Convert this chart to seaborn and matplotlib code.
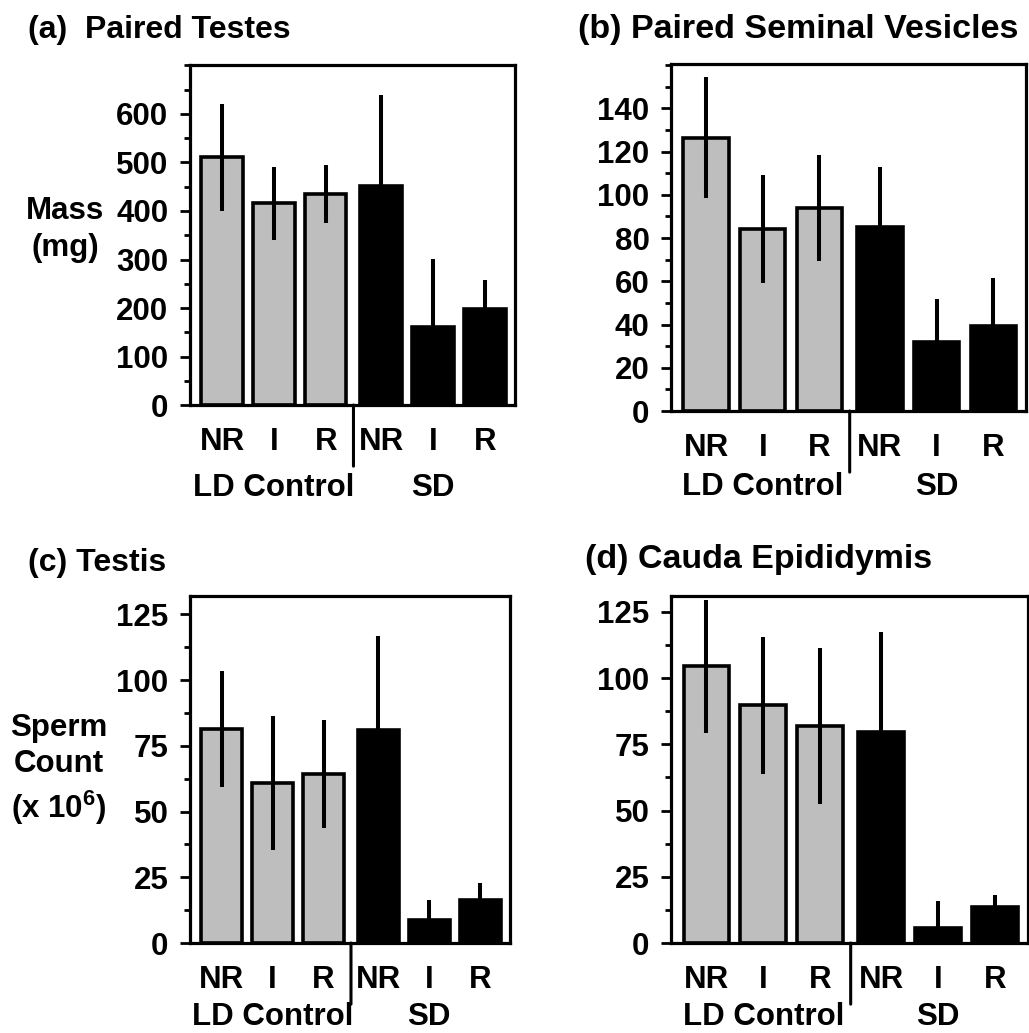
"""
Four-panel bar chart: reproductive organ masses and sperm counts
"""
import matplotlib
matplotlib.use('Agg')
import matplotlib.pyplot as plt
import numpy as np
import pandas as pd
import seaborn as sns

GROUPS = ['LD Control', 'LD Control', 'LD Control', 'SD', 'SD', 'SD']
TICK_LABELS = ['NR', 'I', 'R', 'NR', 'I', 'R']
POSITIONS = [0, 1, 2, 3.07, 4.07, 5.07]

testes_mass = [511, 416, 435, 451, 161, 198]
testes_err = [110, 75, 60, 188, 140, 60]

vesicle_mass = [126.5, 84, 94, 85, 32, 39.5]
vesicle_err = [28, 25, 24.5, 28, 20, 22]

testis_count = [81.3, 61, 64.3, 81.2, 8.6, 16.5]
testis_err = [22, 25.5, 20.5, 35.7, 7.7, 6.4]

cauda_count = [104.4, 89.7, 82, 79.6, 5.8, 13.6]
cauda_err = [25, 26, 29.5, 38, 10, 4.7]

PALETTE = {'LD Control': '#bebebe', 'SD': 'black'}

sns.set_theme(style='ticks')
plt.rcParams['font.family'] = ['Liberation Sans', 'DejaVu Sans']
plt.rcParams['font.weight'] = 'bold'
plt.rcParams['mathtext.default'] = 'regular'
for key in ['text.color', 'axes.labelcolor', 'xtick.color', 'ytick.color',
            'axes.edgecolor']:
    plt.rcParams[key] = 'black'

FS = 22.5

fig = plt.figure(figsize=(10.29, 10.33), dpi=100)

panels = [
    # title, title xy, title size, axes rect, values, errors, ymax, major ticks,
    # minor step, ylabel, ylabel xy, group label offset (pt)
    ('(a)  Paired Testes', (0.027, 0.971), 23, [0.1846, 0.6079, 0.3158, 0.3292],
     testes_mass, testes_err, 701, np.arange(0, 601, 100), 50, 'Mass\n(mg)',
     (-0.385, 0.515), -60),
    ('(b) Paired Seminal Vesicles', (0.5617, 0.971), 24.5,
     [0.6521, 0.6021, 0.3451, 0.3359],
     vesicle_mass, vesicle_err, 160.5, np.arange(0, 141, 20), 10, None, None, -55),
    ('(c) Testis', (0.027, 0.455), 23, [0.1846, 0.0871, 0.3110, 0.3359],
     testis_count, testis_err, 132, np.arange(0, 126, 25), 12.5,
     'Sperm\nCount\n(x 10$^{6}$)', (-0.41, 0.50), -53),
    ('(d) Cauda Epididymis', (0.5685, 0.458), 24.5, [0.6521, 0.0871, 0.3470, 0.3359],
     cauda_count, cauda_err, 131, np.arange(0, 126, 25), 12.5, None, None, -53),
]

for (title, txy, tfs, rect, vals, errs, ymax, majors, mstep,
     ylab, ylab_xy, goff) in panels:
    ax = fig.add_axes(rect)
    df = pd.DataFrame({'pos': POSITIONS, 'value': vals, 'group': GROUPS})
    sns.barplot(data=df, x='pos', y='value', hue='group', palette=PALETTE,
                native_scale=True, dodge=False, width=0.8, errorbar=None,
                edgecolor='black', linewidth=2.6, legend=False, ax=ax)
    ax.errorbar(POSITIONS, vals, yerr=errs, fmt='none', ecolor='black',
                elinewidth=2.9, capsize=0, zorder=5)

    ax.set_xlim(-0.62, 5.65)
    ax.set_ylim(0, ymax)
    ax.set_yticks(majors)
    ax.set_yticks(np.arange(0, ymax + 0.01, mstep), minor=True)
    ax.set_xticks(POSITIONS)
    ax.set_xticklabels(TICK_LABELS)
    ax.set_xlabel('')
    ax.set_ylabel('')

    for sp in ax.spines.values():
        sp.set_visible(True)
        sp.set_linewidth(2.3)
        sp.set_color('black')
    ax.tick_params(axis='y', which='major', length=7.5, width=2.0,
                   labelsize=FS, pad=8, color='black', labelcolor='black')
    ax.tick_params(axis='y', which='minor', length=4, width=2.0, color='black')
    ax.tick_params(axis='x', length=0, labelsize=FS, pad=16, labelcolor='black')
    for lab in ax.get_xticklabels() + ax.get_yticklabels():
        lab.set_fontweight('bold')

    # group labels and divider below the axis
    for xc, name in [(1, 'LD Control'), (4.07, 'SD')]:
        ax.annotate(name, xy=(xc, 0), xycoords=('data', 'axes fraction'),
                    xytext=(0, goff), textcoords='offset points',
                    ha='center', va='center', fontsize=FS, fontweight='bold',
                    annotation_clip=False)
    ax.annotate('', xy=(2.535, 0), xycoords=('data', 'axes fraction'),
                xytext=(0, -44), textcoords='offset points',
                arrowprops=dict(arrowstyle='-', lw=2.2, color='black',
                                shrinkA=0, shrinkB=0),
                annotation_clip=False)

    if ylab is not None:
        ax.text(ylab_xy[0], ylab_xy[1], ylab, transform=ax.transAxes,
                ha='center', va='center', multialignment='center',
                fontsize=FS, fontweight='bold', linespacing=1.3)

    fig.text(txy[0], txy[1], title, ha='left', va='center',
             fontsize=tfs, fontweight='bold')

fig.savefig('out.png', dpi=100, facecolor='white')
